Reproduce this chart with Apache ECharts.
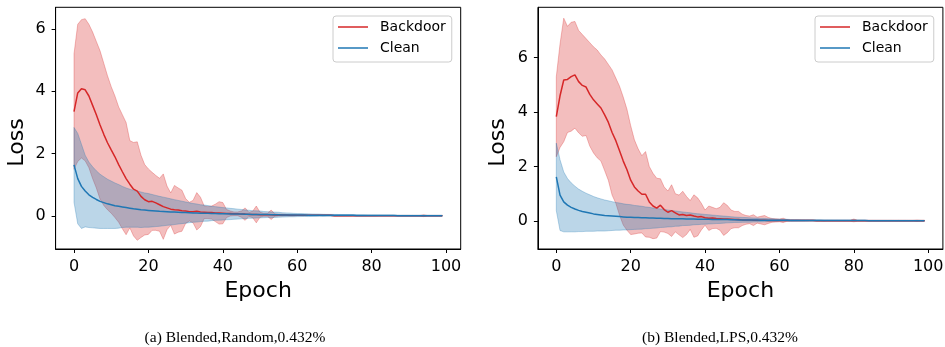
<!DOCTYPE html>
<html>
<head>
<meta charset="utf-8">
<script src="https://cdn.jsdelivr.net/npm/echarts@6/dist/echarts.min.js"></script>
<style>
html,body{margin:0;padding:0;background:#fff;}
#chart{width:945px;height:347px;}
</style>
</head>
<body>
<div id="chart"></div>
<script>
// ---------------- data ----------------
const epochs = [0,1,2,3,4,5,6,7,8,9,10,11,12,13,14,15,16,17,18,19,20,21,22,23,24,25,26,27,28,29,30,31,32,33,34,35,36,37,38,39,40,41,42,43,44,45,46,47,48,49,50,51,52,53,54,55,56,57,58,59,60,61,62,63,64,65,66,67,68,69,70,71,72,73,74,75,76,77,78,79,80,81,82,83,84,85,86,87,88,89,90,91,92,93,94,95,96,97,98,99];

// (a) Blended, Random
const backdoorMeanA = [3.35,3.95,4.08,4.05,3.85,3.55,3.25,2.92,2.62,2.35,2.12,1.9,1.65,1.42,1.2,1.02,0.86,0.8,0.63,0.52,0.46,0.47,0.42,0.36,0.3,0.26,0.22,0.2,0.19,0.17,0.16,0.14,0.14,0.15,0.13,0.12,0.11,0.11,0.1,0.1,0.09,0.08,0.08,0.07,0.07,0.06,0.06,0.05,0.05,0.05,0.04,0.04,0.04,0.04,0.03,0.03,0.03,0.03,0.02,0.02,0.02,0.02,0.02,0.02,0.02,0.02,0.02,0.02,0.02,0.02,0.01,0.01,0.01,0.01,0.01,0.01,0.01,0.01,0.01,0.01,0.01,0.01,0.01,0.01,0.01,0.01,0.01,0.01,0.01,0.01,0.01,0.01,0.01,0.01,0.01,0.01,0.01,0.01,0.01,0.01];
const backdoorStdA = [1.85,2.2,2.22,2.28,2.3,2.35,2.35,2.38,2.28,2.15,2.03,1.95,1.85,1.83,1.8,1.4,1.5,1.58,1.32,1.13,1.05,0.93,0.88,0.85,1.05,0.7,0.52,0.78,0.71,0.66,0.4,0.3,0.36,0.6,0.47,0.2,0.19,0.21,0.28,0.36,0.34,0.13,0.08,0.06,0.06,0.1,0.2,0.07,0.1,0.27,0.08,0.05,0.05,0.15,0.04,0.03,0.03,0.02,0.02,0.02,0.01,0.01,0.01,0.01,0.01,0.01,0.01,0.01,0.01,0.01,0.01,0.01,0.01,0.01,0.01,0.01,0.01,0.01,0.01,0.01,0.01,0.01,0.01,0.01,0.01,0.01,0.01,0.01,0.01,0.01,0.01,0.01,0.01,0.01,0.03,0.01,0.01,0.01,0.01,0.01];
const cleanMeanA = [1.64,1.2,0.95,0.8,0.68,0.6,0.53,0.47,0.43,0.39,0.36,0.33,0.31,0.29,0.27,0.25,0.23,0.22,0.2,0.19,0.18,0.17,0.16,0.15,0.145,0.14,0.13,0.125,0.12,0.115,0.11,0.105,0.1,0.095,0.09,0.09,0.085,0.08,0.08,0.075,0.07,0.07,0.065,0.065,0.06,0.06,0.055,0.055,0.05,0.05,0.05,0.045,0.045,0.04,0.04,0.04,0.035,0.035,0.035,0.03,0.03,0.03,0.03,0.025,0.025,0.025,0.025,0.02,0.02,0.02,0.02,0.02,0.02,0.02,0.02,0.02,0.015,0.015,0.015,0.015,0.015,0.015,0.015,0.015,0.015,0.015,0.015,0.01,0.01,0.01,0.01,0.01,0.01,0.01,0.01,0.01,0.01,0.01,0.01,0.01];
const cleanStdA = [1.2,1.45,1.35,1.15,1.05,0.98,0.92,0.87,0.83,0.79,0.76,0.73,0.7,0.66,0.63,0.61,0.59,0.58,0.57,0.55,0.54,0.52,0.5,0.48,0.46,0.44,0.42,0.4,0.38,0.36,0.34,0.32,0.3,0.29,0.27,0.26,0.25,0.23,0.22,0.21,0.2,0.19,0.18,0.17,0.16,0.15,0.14,0.13,0.12,0.115,0.11,0.1,0.095,0.09,0.085,0.08,0.07,0.065,0.06,0.055,0.05,0.048,0.045,0.043,0.04,0.038,0.036,0.034,0.032,0.03,0.03,0.028,0.027,0.026,0.025,0.024,0.023,0.022,0.021,0.02,0.02,0.02,0.019,0.019,0.018,0.018,0.017,0.017,0.016,0.016,0.016,0.015,0.015,0.015,0.015,0.015,0.015,0.015,0.015,0.015];

// (b) Blended, LPS
const backdoorMeanB = [3.83,4.6,5.18,5.2,5.3,5.37,5.12,4.98,4.92,4.65,4.45,4.3,4.15,3.9,3.62,3.25,2.95,2.58,2.2,1.88,1.5,1.25,1.1,0.98,0.98,0.7,0.55,0.47,0.58,0.42,0.32,0.38,0.3,0.22,0.24,0.2,0.22,0.18,0.15,0.16,0.12,0.1,0.11,0.09,0.08,0.07,0.07,0.06,0.05,0.05,0.04,0.04,0.04,0.03,0.03,0.03,0.03,0.02,0.02,0.02,0.02,0.02,0.02,0.02,0.02,0.02,0.02,0.02,0.02,0.02,0.01,0.01,0.01,0.01,0.01,0.01,0.01,0.01,0.01,0.01,0.02,0.01,0.01,0.01,0.01,0.01,0.01,0.01,0.01,0.01,0.01,0.01,0.01,0.01,0.01,0.01,0.01,0.01,0.01,0.01];
const backdoorStdB = [1.47,1.9,2.27,1.95,2.0,1.96,1.88,1.87,1.78,1.9,1.95,1.98,1.95,2.05,2.13,2.3,2.3,2.37,2.35,2.22,2.0,1.73,1.55,1.42,1.57,1.3,1.2,1.1,0.97,0.83,0.78,0.95,0.7,0.73,0.85,0.7,0.53,0.78,0.7,0.49,0.28,0.45,0.39,0.36,0.42,0.6,0.5,0.34,0.3,0.3,0.21,0.16,0.14,0.2,0.11,0.14,0.17,0.11,0.07,0.06,0.05,0.08,0.03,0.02,0.02,0.02,0.02,0.02,0.02,0.02,0.02,0.02,0.02,0.02,0.02,0.02,0.02,0.02,0.02,0.02,0.05,0.02,0.02,0.02,0.02,0.02,0.02,0.02,0.02,0.02,0.02,0.02,0.02,0.02,0.02,0.02,0.02,0.03,0.02,0.02];
const cleanMeanB = [1.62,0.95,0.7,0.58,0.5,0.44,0.39,0.35,0.32,0.29,0.26,0.24,0.22,0.2,0.19,0.18,0.17,0.16,0.15,0.14,0.14,0.13,0.125,0.12,0.115,0.11,0.105,0.1,0.1,0.095,0.09,0.085,0.085,0.08,0.08,0.075,0.07,0.07,0.065,0.065,0.06,0.06,0.055,0.055,0.05,0.05,0.05,0.045,0.045,0.04,0.04,0.04,0.035,0.035,0.035,0.03,0.03,0.03,0.03,0.025,0.025,0.025,0.025,0.02,0.02,0.02,0.02,0.02,0.02,0.02,0.02,0.02,0.015,0.015,0.015,0.015,0.015,0.015,0.015,0.015,0.015,0.015,0.015,0.015,0.01,0.01,0.01,0.01,0.01,0.01,0.01,0.01,0.01,0.01,0.01,0.01,0.01,0.01,0.01,0.01];
const cleanStdB = [1.24,1.3,1.1,0.98,0.9,0.84,0.78,0.74,0.7,0.67,0.64,0.61,0.59,0.57,0.55,0.53,0.51,0.5,0.48,0.47,0.46,0.44,0.43,0.42,0.4,0.39,0.37,0.36,0.34,0.33,0.31,0.3,0.28,0.27,0.25,0.24,0.23,0.21,0.2,0.19,0.18,0.17,0.16,0.15,0.14,0.13,0.12,0.11,0.1,0.095,0.09,0.085,0.08,0.075,0.07,0.065,0.06,0.055,0.05,0.045,0.04,0.038,0.036,0.034,0.032,0.03,0.028,0.026,0.025,0.024,0.023,0.022,0.021,0.02,0.02,0.019,0.019,0.018,0.018,0.017,0.017,0.016,0.016,0.016,0.015,0.015,0.015,0.015,0.014,0.014,0.014,0.013,0.013,0.013,0.013,0.012,0.012,0.012,0.012,0.012];

const xTicks = [0,20,40,60,80,100];
const yTicks = [0,2,4,6];
const seriesNames = ['Backdoor','Clean'];
const captions = ['(a) Blended,Random,0.432%','(b) Blended,LPS,0.432%'];

// ---------------- chart ----------------
const RED = '#d62728', BLUE = '#1f77b4';
const RED_F = 'rgba(214,39,40,0.3)', BLUE_F = 'rgba(31,119,180,0.3)';
const FONT = 'DejaVu Sans';

const panels = [
  {left:55.6, top:7.3, width:405.1, height:241.7, ymin:-1.059, ymax:6.696,
   bm:backdoorMeanA, bs:backdoorStdA, cm:cleanMeanA, cs:cleanStdA},
  {left:537.9, top:7.3, width:405, height:241.7, ymin:-1.03, ymax:7.85,
   bm:backdoorMeanB, bs:backdoorStdB, cm:cleanMeanB, cs:cleanStdB}
];

// band polygon (mean ± std) drawn through the axis scales
function bandRenderer(mean, std, fill) {
  return function (params, api) {
    const upper = [], lower = [];
    for (let j = 0; j < epochs.length; j++) {
      upper.push(api.coord([epochs[j], mean[j] + std[j]]));
      lower.push(api.coord([epochs[j], mean[j] - std[j]]));
    }
    const pts = upper.concat(lower.reverse());
    return {type:'polygon', shape:{points:pts},
      style:{fill:fill, stroke:fill, lineWidth:1}, silent:true};
  };
}

const grid = [], xAxis = [], yAxis = [], series = [];
panels.forEach((p, i) => {
  grid.push({left:p.left, top:p.top, width:p.width, height:p.height, show:true,
    borderColor:'#000', borderWidth:1, backgroundColor:'transparent', containLabel:false, outerBoundsMode:'none'});
  xAxis.push({type:'value', gridIndex:i, min:-4.95, max:103.95, position:'bottom',
    name:'Epoch', nameLocation:'middle', nameGap:30,
    nameTextStyle:{fontFamily:FONT, fontSize:22, color:'#000'},
    axisLine:{show:true, onZero:false, lineStyle:{color:'#000', width:1}},
    axisTick:{show:true, length:4, inside:false, customValues:xTicks, lineStyle:{color:'#000'}},
    axisLabel:{customValues:xTicks, fontFamily:FONT, fontSize:16, color:'#000', margin:10},
    splitLine:{show:false}});
  yAxis.push({type:'value', gridIndex:i, min:p.ymin, max:p.ymax, position:'left',
    axisLine:{show:true, onZero:false, lineStyle:{color:'#000', width:1}},
    axisTick:{show:true, length:4, inside:false, customValues:yTicks, lineStyle:{color:'#000'}},
    axisLabel:{customValues:yTicks, fontFamily:FONT, fontSize:16, color:'#000', margin:10},
    splitLine:{show:false}});

  const groups = [
    {name:seriesNames[0], mean:p.bm, std:p.bs, line:RED, fill:RED_F},
    {name:seriesNames[1], mean:p.cm, std:p.cs, line:BLUE, fill:BLUE_F}
  ];
  groups.forEach((g) => {
    series.push({type:'custom', xAxisIndex:i, yAxisIndex:i, silent:true, z:2,
      renderItem: bandRenderer(g.mean, g.std, g.fill),
      data:[[epochs[0], g.mean[0]]], clip:true});
    series.push({type:'line', name:g.name, xAxisIndex:i, yAxisIndex:i,
      symbol:'none', showSymbol:false, silent:true, z:2, color:g.line,
      itemStyle:{color:g.line},
      lineStyle:{color:g.line, width:1.5},
      data: epochs.map((e, j) => [e, g.mean[j]])});
  });
});

const legendBase = {
  orient:'vertical', top:16, itemWidth:30, itemHeight:14, itemGap:7,
  icon:'path://M0 0 L30 0 L30 1.5 L0 1.5 Z', symbolKeepAspect:true,
  padding:[4,6,7,5], backgroundColor:'rgba(255,255,255,0.8)',
  borderColor:'#cccccc', borderWidth:1, borderRadius:3, selectedMode:false,
  textStyle:{fontFamily:FONT, fontSize:14, color:'#000', padding:[0,0,0,7]},
  data:seriesNames
};

const option = {
  animation:false,
  backgroundColor:'#fff',
  grid, xAxis, yAxis, series,
  legend:[Object.assign({left:333}, legendBase), Object.assign({left:815}, legendBase)],
  graphic:[
    {type:'text', x:17, y:142.5, rotation:Math.PI/2,
     style:{text:'Loss', font:'22px "DejaVu Sans"', fill:'#000', align:'center', verticalAlign:'middle'}},
    {type:'text', x:498.5, y:142.5, rotation:Math.PI/2,
     style:{text:'Loss', font:'22px "DejaVu Sans"', fill:'#000', align:'center', verticalAlign:'middle'}},
    {type:'text', x:235, y:338,
     style:{text:captions[0], font:'15.5px "Liberation Serif"', fill:'#000', align:'center', verticalAlign:'middle'}},
    {type:'text', x:720, y:338,
     style:{text:captions[1], font:'15.5px "Liberation Serif"', fill:'#000', align:'center', verticalAlign:'middle'}}
  ]
};

const chart = echarts.init(document.getElementById('chart'), null, {renderer:'canvas'});
chart.setOption(option);
</script>
</body>
</html>
